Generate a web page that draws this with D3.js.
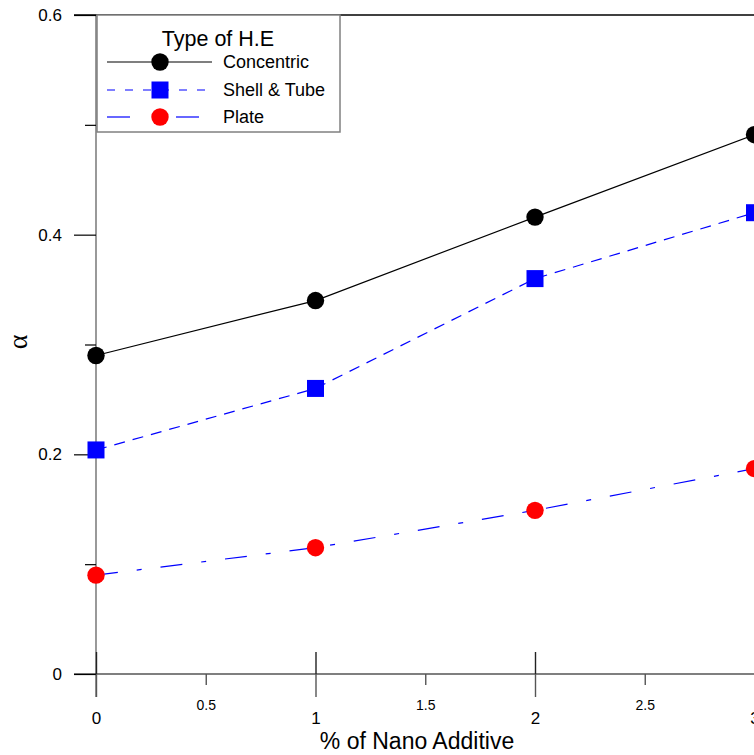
<!DOCTYPE html>
<html><head><meta charset="utf-8">
<script src="https://cdn.jsdelivr.net/npm/d3@7"></script>
<style>
html,body{margin:0;padding:0;background:#fff;overflow:hidden}
text{font-family:"Liberation Sans",Arial,sans-serif;fill:#000}
</style></head>
<body>
<svg id="c" width="754" height="755"></svg>
<script>
const xValues = [0, 1, 2, 3];
const concentric = [0.290, 0.340, 0.416, 0.491];
const shellTube = [0.204, 0.260, 0.360, 0.420];
const plate = [0.090, 0.115, 0.149, 0.187];
const seriesNames = ["Concentric", "Shell & Tube", "Plate"];
const xMajorTicks = [0, 1, 2, 3];
const xMinorTicks = [0.5, 1.5, 2.5];
const yMajorTicks = [0, 0.2, 0.4, 0.6];
const yMinorTicks = [0.1, 0.3, 0.5];
const legendTitle = "Type of H.E";
const xTitle = "% of Nano Additive";
const yTitle = "α";

const svg = d3.select("#c");
const x = d3.scaleLinear().domain([0, 3]).range([96, 754.5]);
const y = d3.scaleLinear().domain([0, 0.6]).range([674, 15]);

// top frame line
svg.append("line").attr("x1", 74).attr("x2", 754).attr("y1", y(0.6)).attr("y2", y(0.6))
  .attr("stroke", "#000").attr("stroke-width", 1.5);

// y axis line (gray)
svg.append("line").attr("x1", x(0)).attr("x2", x(0)).attr("y1", y(0.6)).attr("y2", 697)
  .attr("stroke", "#808080").attr("stroke-width", 1.6);

// x axis line
svg.append("line").attr("x1", 74).attr("x2", 754).attr("y1", y(0)).attr("y2", y(0))
  .attr("stroke", "#000").attr("stroke-width", 1.2);

// Y major ticks
const gyMaj = svg.append("g").attr("transform", `translate(${x(0)},0)`)
  .call(d3.axisLeft(y).tickValues(yMajorTicks).tickSize(22).tickPadding(12).tickFormat(d3.format("")));
gyMaj.select(".domain").remove();
gyMaj.selectAll("line").attr("stroke", "#000").attr("stroke-width", 1.2);
gyMaj.selectAll("text").attr("font-size", 17).attr("font-family", "Liberation Sans, Arial, sans-serif").attr("fill", "#000");

const gyMin = svg.append("g").attr("transform", `translate(${x(0)},0)`)
  .call(d3.axisLeft(y).tickValues(yMinorTicks).tickSize(11).tickFormat(""));
gyMin.select(".domain").remove();
gyMin.selectAll("line").attr("stroke", "#000").attr("stroke-width", 1.2);

// X major ticks (down part with labels)
const gxMaj = svg.append("g").attr("transform", `translate(0,${y(0)})`)
  .call(d3.axisBottom(x).tickValues(xMajorTicks).tickSize(23).tickPadding(15).tickFormat(d3.format("")));
gxMaj.select(".domain").remove();
gxMaj.selectAll("line").attr("stroke", "#555").attr("stroke-width", 1.4);
gxMaj.selectAll("text").attr("font-size", 17).attr("font-family", "Liberation Sans, Arial, sans-serif").attr("fill", "#000");
// X major ticks (up part)
const gxUp = svg.append("g").attr("transform", `translate(0,${y(0)})`)
  .call(d3.axisTop(x).tickValues(xMajorTicks).tickSize(22).tickFormat(""));
gxUp.select(".domain").remove();
gxUp.selectAll("line").attr("stroke", "#222").attr("stroke-width", 1.4);

// X minor ticks
const gxMin = svg.append("g").attr("transform", `translate(0,${y(0)})`)
  .call(d3.axisBottom(x).tickValues(xMinorTicks).tickSize(11).tickPadding(15).tickFormat(d3.format("")));
gxMin.select(".domain").remove();
gxMin.selectAll("line").attr("stroke", "#555").attr("stroke-width", 1.4);
gxMin.selectAll("text").attr("font-size", 14).attr("font-family", "Liberation Sans, Arial, sans-serif").attr("fill", "#000");

// Axis titles
svg.append("text").attr("x", 417).attr("y", 749).attr("text-anchor", "middle")
  .attr("font-size", 23).text(xTitle);
svg.append("text").attr("transform", "translate(27,342) rotate(-90)").attr("text-anchor", "middle")
  .style("font-family", "'Liberation Serif','Times New Roman',serif").attr("font-size", 28).text(yTitle);

// Lines
const line = d3.line().x((d, i) => x(xValues[i])).y(d => y(d));
const styles = [
  {data: concentric, stroke: "#000", dash: null, marker: "circle", fill: "#000"},
  {data: shellTube, stroke: "#0000ff", dash: "11,8", marker: "square", fill: "#0000ff"},
  {data: plate, stroke: "#0000ff", dash: "22,19,5,19", marker: "circle", fill: "#ff0000"}
];
styles.forEach(s => {
  svg.append("path").datum(s.data).attr("d", line).attr("fill", "none")
    .attr("stroke", s.stroke).attr("stroke-width", 1.2).attr("stroke-dasharray", s.dash);
});
function drawMarker(g, type, cx, cy, fill) {
  if (type === "circle") {
    g.append("circle").attr("cx", cx).attr("cy", cy).attr("r", 8.7).attr("fill", fill);
  } else {
    g.append("rect").attr("x", cx - 8.5).attr("y", cy - 8.5).attr("width", 17).attr("height", 17).attr("fill", fill);
  }
}
styles.forEach(s => {
  s.data.forEach((d, i) => drawMarker(svg, s.marker, x(xValues[i]), y(d), s.fill));
});

// Legend
const lg = svg.append("g");
lg.append("rect").attr("x", 97).attr("y", 15).attr("width", 243).attr("height", 117)
  .attr("fill", "#fff").attr("stroke", "#808080").attr("stroke-width", 1.5);
lg.append("text").attr("x", 218).attr("y", 46).attr("text-anchor", "middle").attr("font-size", 21.5).text(legendTitle);
const ly = [62, 90, 117];
styles.forEach((s, i) => {
  if (i === 2) {
    lg.append("line").attr("x1", 107).attr("x2", 130).attr("y1", ly[i]).attr("y2", ly[i]).attr("stroke", s.stroke).attr("stroke-width", 1.2);
    lg.append("line").attr("x1", 176).attr("x2", 199).attr("y1", ly[i]).attr("y2", ly[i]).attr("stroke", s.stroke).attr("stroke-width", 1.2);
  } else if (i === 1) {
    lg.append("line").attr("x1", 107).attr("x2", 212).attr("y1", ly[i]).attr("y2", ly[i]).attr("stroke", s.stroke).attr("stroke-width", 1.2).attr("stroke-dasharray", "8,10");
  } else {
    lg.append("line").attr("x1", 107).attr("x2", 212).attr("y1", ly[i]).attr("y2", ly[i]).attr("stroke", s.stroke).attr("stroke-width", 1.2);
  }
  drawMarker(lg, s.marker, 160, ly[i], s.fill);
  lg.append("text").attr("x", 223).attr("y", ly[i]).attr("dy", "0.35em").attr("font-size", 18).text(seriesNames[i]);
});
</script>
</body></html>
